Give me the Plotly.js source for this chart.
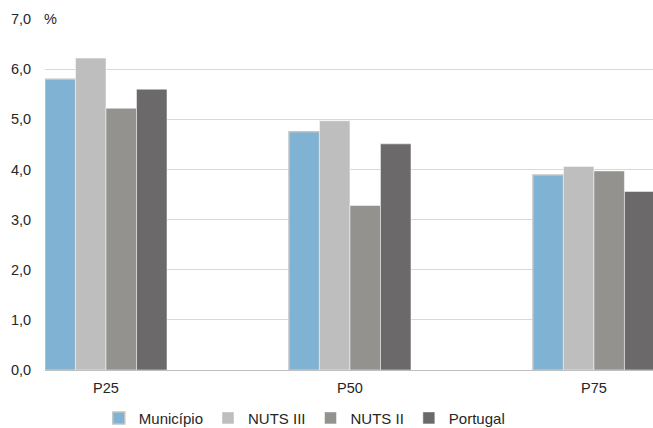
<!DOCTYPE html>
<html><head><meta charset="utf-8">
<script src="https://cdn.plot.ly/plotly-3.0.1.min.js"></script>
<style>html,body{margin:0;padding:0;background:#fff}#chart{width:653px;height:428px}</style>
</head><body><div id="chart"></div>
<script>
const categories = ['P25', 'P50', 'P75'];
const seriesNames = ['Município', 'NUTS III', 'NUTS II', 'Portugal'];
const municipio = [5.80, 4.75, 3.89];
const nutsIII = [6.22, 4.97, 4.06];
const nutsII = [5.22, 3.28, 3.97];
const portugal = [5.60, 4.51, 3.56];
const yTicks = [0, 1, 2, 3, 4, 5, 6, 7];

const colors = ['#7FB2D3', '#BFBEBF', '#94928F', '#6B6969'];
const values = [municipio, nutsIII, nutsII, portugal];
const traces = values.map((v, i) => ({
  type: 'bar', x: categories, y: v, name: seriesNames[i],
  marker: {color: colors[i], line: {color: i === 0 ? '#C4C4C4' : '#FFFFFF', width: i === 0 ? 1.5 : 0.5}},
  hoverinfo: 'none'
}));

const layout = {
  width: 653, height: 428,
  margin: {l: 45, r: 0, t: 19, b: 58, autoexpand: false},
  paper_bgcolor: '#fff', plot_bgcolor: '#fff',
  font: {family: 'Liberation Sans, Arial, sans-serif', size: 14.5, color: '#262626'},
  separators: ',.',
  barmode: 'group', bargap: 0.5, bargroupgap: 0,
  xaxis: {type: 'category', range: [-0.25, 2.242], showgrid: false, showline: true, linecolor: '#BFBFBF', linewidth: 1,
          ticks: 'outside', ticklen: 5, tickcolor: 'rgba(0,0,0,0)', tickfont: {size: 14.5}, fixedrange: true, automargin: false},
  yaxis: {range: [0, 7], tickvals: yTicks, tickformat: '.1f', showgrid: true, gridcolor: '#D9D9D9', gridwidth: 1,
          zeroline: false, showline: false, ticks: 'outside', ticklen: 10, tickcolor: 'rgba(0,0,0,0)',
          tickfont: {size: 14.5}, fixedrange: true, automargin: false},
  legend: {orientation: 'h', x: 0.466, xanchor: 'center', xref: 'container', y: 0.023, yanchor: 'middle', yref: 'container',
           font: {size: 15}, itemwidth: 30, traceorder: 'normal', tracegroupgap: 0},
  annotations: [{text: '%', xref: 'paper', yref: 'y', x: 0, y: 7, xanchor: 'left', yanchor: 'middle', showarrow: false,
                 font: {size: 14.5}, xshift: -3}],
  showlegend: true
};
Plotly.newPlot('chart', traces, layout, {displayModeBar: false, staticPlot: true});
</script></body></html>
